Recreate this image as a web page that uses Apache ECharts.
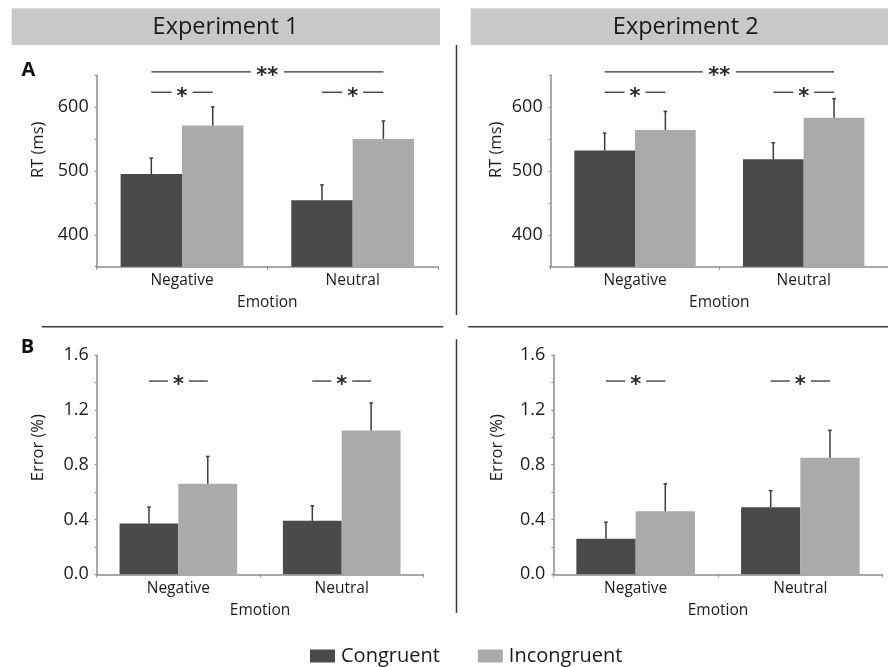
<!DOCTYPE html>
<html>
<head>
<meta charset="utf-8">
<script src="https://cdn.jsdelivr.net/npm/echarts@6/dist/echarts.min.js"></script>
<style>html,body{margin:0;padding:0;background:#fff}#c{width:888px;height:667px}</style>
</head>
<body>
<div id="c"></div>
<script>
// ---------- data ----------
const categories = ['Negative', 'Neutral'];
const seriesNames = ['Congruent', 'Incongruent'];
const panelTitles = ['Experiment 1', 'Experiment 2'];

// RT (ms): means and error (SE) for each emotion category
const exp1RT_congruent = [495, 454];
const exp1RT_congruentErr = [25, 24];
const exp1RT_incongruent = [571, 550];
const exp1RT_incongruentErr = [29, 28];

const exp2RT_congruent = [532, 518];
const exp2RT_congruentErr = [27, 26];
const exp2RT_incongruent = [564, 583];
const exp2RT_incongruentErr = [29, 30];

// Error (%)
const exp1Err_congruent = [0.37, 0.39];
const exp1Err_congruentErr = [0.12, 0.11];
const exp1Err_incongruent = [0.66, 1.05];
const exp1Err_incongruentErr = [0.20, 0.20];

const exp2Err_congruent = [0.26, 0.49];
const exp2Err_congruentErr = [0.12, 0.12];
const exp2Err_incongruent = [0.46, 0.85];
const exp2Err_incongruentErr = [0.20, 0.20];

// RT axis ticks
const rtMin = 350, rtMax = 650, rtInterval = 50;
const rtLabels = [400, 500, 600];
// Error axis ticks
const errMin = 0, errMax = 1.6, errInterval = 0.2;
const errLabels = ['0.0', '0.4', '0.8', '1.2', '1.6'];

// significance brackets: [catA, barA, catB, barB, yValue]
const rtSig = [[0, 0, 1, 1, 655], [0, 0, 0, 1, 623], [1, 0, 1, 1, 623]];
const rtSigText = ['**', '*', '*'];
const errSig = [[0, 0, 0, 1, 1.41], [1, 0, 1, 1, 1.41]];
const errSigText = ['*', '*'];

// ---------- styles ----------
const FONT = 'Open Sans';
const DARK = '#4a4a4a', LIGHT = '#aaaaaa';
const AXIS = '#8c8c8c', TXT = '#1c1c1c';
const GAP_FRAC = 0.72; // fraction of band used by the two bars

const grids = [
  {left: 96.7, top: 75, width: 341.3, height: 191.7},
  {left: 550.7, top: 75, width: 342, height: 191.7},
  {left: 96.7, top: 355, width: 326.7, height: 219.3},
  {left: 553.3, top: 355, width: 329.4, height: 219.3}
];

const xAxes = grids.map((g, i) => ({
  type: 'category', gridIndex: i, data: categories,
  name: 'Emotion', nameLocation: 'middle', nameGap: 28,
  nameTextStyle: {fontFamily: FONT, fontSize: 15.5, color: TXT},
  axisLine: {lineStyle: {color: AXIS, width: 1.5}},
  axisTick: {show: true, length: 3, lineStyle: {color: AXIS}},
  axisLabel: {fontFamily: FONT, fontSize: 15.5, color: TXT, margin: 6}
}));

function rtY(i, gap) {
  return {
    type: 'value', gridIndex: i, min: rtMin, max: rtMax, interval: rtInterval,
    name: 'RT (ms)', nameLocation: 'middle', nameGap: gap,
    nameTextStyle: {fontFamily: FONT, fontSize: 16.5, color: TXT, padding: [0, 0, 0, 42]},
    splitLine: {show: false},
    axisLine: {show: true, lineStyle: {color: AXIS, width: 1.5}},
    axisTick: {show: true, length: 2, lineStyle: {color: AXIS}},
    axisLabel: {fontFamily: FONT, fontSize: 18, color: TXT, margin: 8,
      formatter: v => rtLabels.indexOf(v) >= 0 ? String(v) : ''}
  };
}
function errY(i, gap) {
  return {
    type: 'value', gridIndex: i, min: errMin, max: errMax, interval: errInterval,
    name: 'Error (%)', nameLocation: 'middle', nameGap: gap,
    nameTextStyle: {fontFamily: FONT, fontSize: 16.5, color: TXT, padding: [0, 0, 0, 34]},
    splitLine: {show: false},
    axisLine: {show: true, lineStyle: {color: AXIS, width: 1.5}},
    axisTick: {show: true, length: 2, lineStyle: {color: AXIS}},
    axisLabel: {fontFamily: FONT, fontSize: 18, color: TXT, margin: 8,
      formatter: v => { const s = v.toFixed(1); return errLabels.indexOf(s) >= 0 ? s : ''; }}
  };
}
const yAxes = [rtY(0, 50), rtY(1, 46), errY(2, 50), errY(3, 48)];

const panels = [
  {c: exp1RT_congruent, ce: exp1RT_congruentErr, n: exp1RT_incongruent, ne: exp1RT_incongruentErr, sig: rtSig, sigT: rtSigText},
  {c: exp2RT_congruent, ce: exp2RT_congruentErr, n: exp2RT_incongruent, ne: exp2RT_incongruentErr, sig: rtSig, sigT: rtSigText},
  {c: exp1Err_congruent, ce: exp1Err_congruentErr, n: exp1Err_incongruent, ne: exp1Err_incongruentErr, sig: errSig, sigT: errSigText},
  {c: exp2Err_congruent, ce: exp2Err_congruentErr, n: exp2Err_incongruent, ne: exp2Err_incongruentErr, sig: errSig, sigT: errSigText}
];

function barOffset(api, side) {
  const band = api.size([1, 0])[0];
  const w = band * GAP_FRAC / 2;
  return side === 0 ? -w / 2 : w / 2;
}

const series = [];
panels.forEach((p, i) => {
  series.push({type: 'bar', name: seriesNames[0], xAxisIndex: i, yAxisIndex: i, data: p.c,
    barGap: '0%', barCategoryGap: '28%', itemStyle: {color: DARK}, silent: true});
  series.push({type: 'bar', name: seriesNames[1], xAxisIndex: i, yAxisIndex: i, data: p.n,
    barGap: '0%', barCategoryGap: '28%', itemStyle: {color: LIGHT}, silent: true});
  const errData = [];
  categories.forEach((_, k) => {
    errData.push([k, 0, p.c[k], p.ce[k]]);
    errData.push([k, 1, p.n[k], p.ne[k]]);
  });
  series.push({
    type: 'custom', xAxisIndex: i, yAxisIndex: i, data: errData, z: 5, silent: true,
    renderItem: (params, api) => {
      const k = api.value(0), side = api.value(1), v = api.value(2), e = api.value(3);
      const p0 = api.coord([k, v]), p1 = api.coord([k, v + e]);
      const x = p0[0] + barOffset(api, side);
      const st = {stroke: '#3c3c3c', lineWidth: 1.5};
      return {type: 'group', children: [
        {type: 'line', shape: {x1: x, y1: p0[1], x2: x, y2: p1[1]}, style: st},
        {type: 'line', shape: {x1: x - 1.8, y1: p1[1], x2: x + 1.8, y2: p1[1]}, style: st}
      ]};
    }
  });
  series.push({
    type: 'custom', xAxisIndex: i, yAxisIndex: i, data: p.sig, z: 5, silent: true, clip: false,
    renderItem: (params, api) => {
      const a = api.coord([api.value(0), api.value(4)]);
      const b = api.coord([api.value(2), api.value(4)]);
      const xa = a[0] + barOffset(api, api.value(1));
      const xb = b[0] + barOffset(api, api.value(3));
      const y = a[1];
      const t = p.sigT[params.dataIndex];
      const half = t.length > 1 ? 16.5 : 10.5;
      const xm = (xa + xb) / 2;
      const st = {stroke: '#333', lineWidth: 1.3};
      return {type: 'group', children: [
        {type: 'line', shape: {x1: xa, y1: y, x2: xm - half, y2: y}, style: st},
        {type: 'line', shape: {x1: xm + half, y1: y, x2: xb, y2: y}, style: st},
        {type: 'text', x: xm, y: y + 5, style: {text: t, fill: '#2a2a2a', fontFamily: 'DejaVu Sans',
          fontSize: 21, fontWeight: 'bold', align: 'center', verticalAlign: 'middle'}}
      ]};
    }
  });
});

const divStyle = {stroke: '#3a3a3a', lineWidth: 1.5};
const graphic = [
  {type: 'rect', shape: {x: 11.7, y: 8.3, width: 428.3, height: 36.7}, style: {fill: '#c8c8c8'}},
  {type: 'rect', shape: {x: 470.7, y: 8.3, width: 430, height: 36.7}, style: {fill: '#c8c8c8'}},
  {type: 'text', x: 225.5, y: 27, style: {text: panelTitles[0], fontFamily: FONT, fontSize: 23.5, fill: '#1a1a1a', align: 'center', verticalAlign: 'middle'}},
  {type: 'text', x: 685.7, y: 27, style: {text: panelTitles[1], fontFamily: FONT, fontSize: 23.5, fill: '#1a1a1a', align: 'center', verticalAlign: 'middle'}},
  {type: 'text', x: 28.5, y: 70, style: {text: 'A', fontFamily: FONT, fontSize: 20, fontWeight: 'bold', fill: '#111', align: 'center', verticalAlign: 'middle'}},
  {type: 'text', x: 27.5, y: 347, style: {text: 'B', fontFamily: FONT, fontSize: 20, fontWeight: 'bold', fill: '#111', align: 'center', verticalAlign: 'middle'}},
  {type: 'line', shape: {x1: 42, y1: 326.7, x2: 443.3, y2: 326.7}, style: divStyle},
  {type: 'line', shape: {x1: 468.3, y1: 326.7, x2: 888, y2: 326.7}, style: divStyle},
  {type: 'line', shape: {x1: 456.5, y1: 45, x2: 456.5, y2: 315}, style: divStyle},
  {type: 'line', shape: {x1: 456.5, y1: 339.3, x2: 456.5, y2: 613}, style: divStyle}
];

const chart = echarts.init(document.getElementById('c'), null, {renderer: 'canvas'});
chart.setOption({
  animation: false,
  backgroundColor: '#fff',
  textStyle: {fontFamily: FONT},
  grid: grids,
  xAxis: xAxes,
  yAxis: yAxes,
  legend: {
    data: seriesNames, left: 305, top: 641, itemWidth: 25, itemHeight: 13, itemGap: 38,
    icon: 'rect', selectedMode: false,
    textStyle: {fontFamily: FONT, fontSize: 20, color: '#1a1a1a', padding: [0, 0, 0, 1]}
  },
  series: series,
  graphic: graphic
});
</script>
</body>
</html>
